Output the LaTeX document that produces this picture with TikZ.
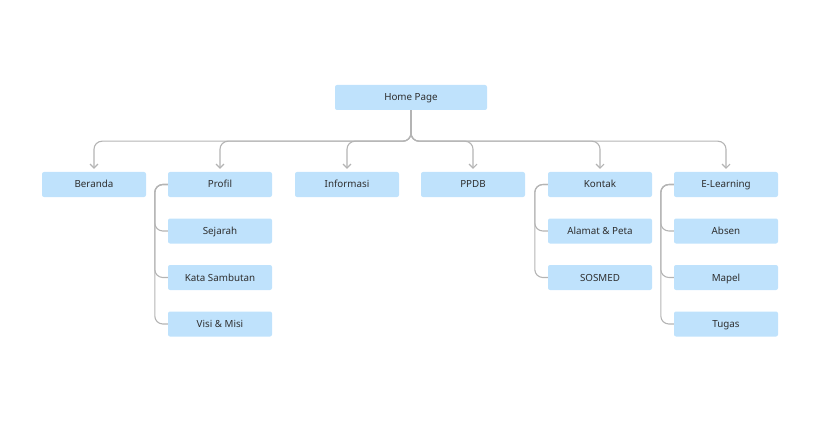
\documentclass[tikz,border=0pt]{standalone}
\usepackage{fontspec}
\setmainfont{Noto Sans}
\usepackage{tikz}
\usetikzlibrary{arrows.meta}

\definecolor{boxblue}{HTML}{BFE2FC}
\definecolor{linegray}{HTML}{B4B4B4}
\definecolor{textgray}{HTML}{2E2E2E}

\tikzset{
  menu/.style={fill=boxblue,rounded corners=2pt,minimum width=104pt,minimum height=25pt,
    inner sep=0pt,text height=7pt,text depth=0pt,text=textgray,font=\fontsize{9.8}{11}\selectfont},
  link/.style={draw=linegray,line width=1.1pt,rounded corners=8pt},
  down/.style={link,-{Straight Barb[length=4pt,width=8pt]},shorten >=3pt}
}

\begin{document}
\begin{tikzpicture}[x=1pt,y=-1pt]
\useasboundingbox (0,0) rectangle (821,422);

\node (HomePage) at (411,97.5) [menu,minimum width=152pt]{Home Page};

\node (Beranda) at (94,184.5) [menu]{Beranda};
\node (Profil) at (220,184.5) [menu]{Profil};
\node (Informasi) at (347,184.5) [menu]{Informasi};
\node (PPDB) at (473,184.5) [menu]{PPDB};
\node (Kontak) at (600,184.5) [menu]{Kontak};
\node (ELearning) at (726,184.5) [menu]{E-Learning};

\node (Sejarah) at (220,231) [menu]{Sejarah};
\node (KataSambutan) at (220,277.5) [menu]{Kata Sambutan};
\node (VisiMisi) at (220,324) [menu]{Visi \& Misi};

\node (AlamatPeta) at (600,231) [menu]{Alamat \& Peta};
\node (SOSMED) at (600,277.5) [menu]{SOSMED};

\node (Absen) at (726,231) [menu]{Absen};
\node (Mapel) at (726,277.5) [menu]{Mapel};
\node (Tugas) at (726,324) [menu]{Tugas};

\draw [down] (HomePage.south) -- ++(0,31) -| (Beranda.north);
\draw [down] (HomePage.south) -- ++(0,31) -| (Profil.north);
\draw [down] (HomePage.south) -- ++(0,31) -| (Informasi.north);
\draw [down] (HomePage.south) -- ++(0,31) -| (PPDB.north);
\draw [down] (HomePage.south) -- ++(0,31) -| (Kontak.north);
\draw [down] (HomePage.south) -- ++(0,31) -| (ELearning.north);

\draw [link] (Profil.west) -- ++(-13,0) |- (Sejarah.west);
\draw [link] (Profil.west) -- ++(-13,0) |- (KataSambutan.west);
\draw [link] (Profil.west) -- ++(-13,0) |- (VisiMisi.west);

\draw [link] (Kontak.west) -- ++(-13,0) |- (AlamatPeta.west);
\draw [link] (Kontak.west) -- ++(-13,0) |- (SOSMED.west);

\draw [link] (ELearning.west) -- ++(-13,0) |- (Absen.west);
\draw [link] (ELearning.west) -- ++(-13,0) |- (Mapel.west);
\draw [link] (ELearning.west) -- ++(-13,0) |- (Tugas.west);

\end{tikzpicture}
\end{document}
